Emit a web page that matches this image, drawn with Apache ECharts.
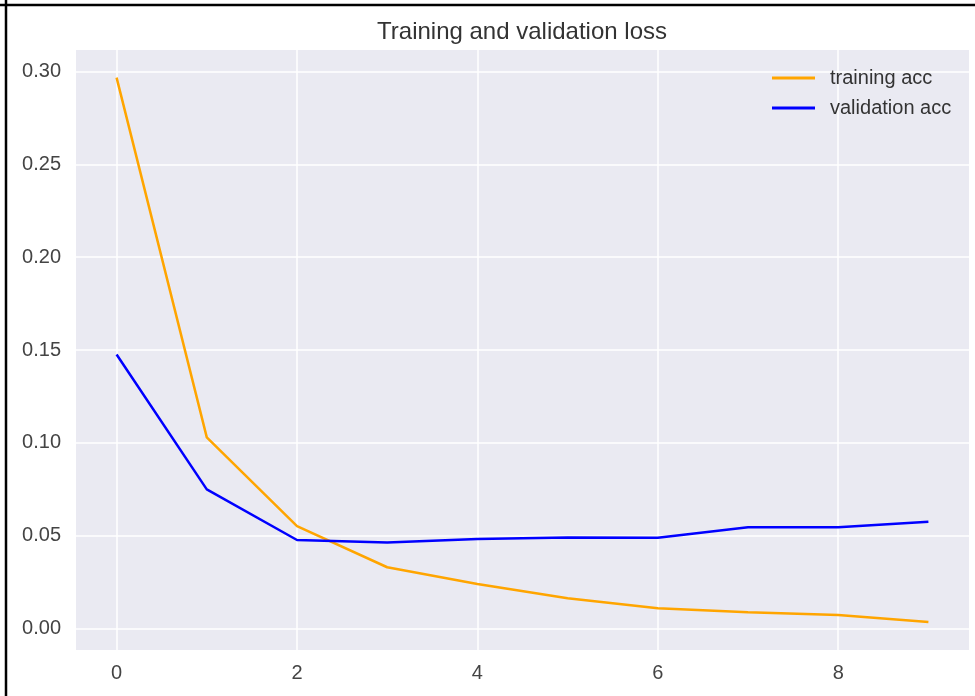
<!DOCTYPE html>
<html>
<head>
<meta charset="utf-8">
<script src="https://cdn.jsdelivr.net/npm/echarts@6/dist/echarts.min.js"></script>
<style>
html,body{margin:0;padding:0;background:#fff;}
#chart{width:975px;height:696px;}
</style>
</head>
<body>
<div id="chart"></div>
<script>
const epochs = [0, 1, 2, 3, 4, 5, 6, 7, 8, 9];
const trainingAcc = [0.2968, 0.1029, 0.0551, 0.0329, 0.0239, 0.0162, 0.0108, 0.0086, 0.0072, 0.0034];
const validationAcc = [0.1476, 0.0749, 0.0476, 0.0463, 0.0481, 0.0490, 0.0488, 0.0544, 0.0544, 0.0574];
const xTicks = [0, 2, 4, 6, 8];
const yTicks = [0.00, 0.05, 0.10, 0.15, 0.20, 0.25, 0.30];
const titleText = 'Training and validation loss';
const seriesNames = ['training acc', 'validation acc'];

const chart = echarts.init(document.getElementById('chart'), null, {renderer: 'canvas'});
const font = 'Liberation Sans, Arial, sans-serif';
chart.setOption({
  animation: false,
  backgroundColor: '#ffffff',
  title: {
    text: titleText,
    left: 517, top: 15, textAlign: 'center',
    textStyle: {fontFamily: font, fontSize: 24, fontWeight: 'normal', color: '#333333'}
  },
  legend: {
    orient: 'vertical',
    left: 767, top: 63,
    itemWidth: 43, itemHeight: 3, itemGap: 10,
    icon: 'rect',
    data: seriesNames,
    textStyle: {fontFamily: font, fontSize: 20, color: '#333333', padding: [0, 0, 0, 10]}
  },
  grid: {left: 76, top: 50, width: 893, height: 600, backgroundColor: '#EAEAF2', show: true, borderWidth: 0},
  xAxis: {
    type: 'value', min: -0.45, max: 9.45,
    axisLine: {show: false},
    axisTick: {show: false, customValues: xTicks},
    axisLabel: {customValues: xTicks, fontFamily: font, fontSize: 20, color: '#444444', margin: 13},
    splitLine: {show: true, lineStyle: {color: '#ffffff', width: 1.5}}
  },
  yAxis: {
    type: 'value', min: -0.0117, max: 0.3117,
    axisLine: {show: false},
    axisTick: {show: false, customValues: yTicks},
    axisLabel: {customValues: yTicks, fontFamily: font, fontSize: 20, color: '#444444', margin: 15,
      formatter: v => v.toFixed(2)},
    splitLine: {show: true, lineStyle: {color: '#ffffff', width: 1.5}}
  },
  graphic: [
    {type: 'line', shape: {x1: 6, y1: 0, x2: 6, y2: 696}, style: {stroke: '#000', lineWidth: 2.5}, z: 100},
    {type: 'line', shape: {x1: 0, y1: 5, x2: 975, y2: 5}, style: {stroke: '#000', lineWidth: 2.5}, z: 100}
  ],
  series: [
    {name: seriesNames[0], type: 'line', data: epochs.map((e, i) => [e, trainingAcc[i]]),
     showSymbol: false, symbol: 'none', color: '#FFA500', lineStyle: {width: 2.5, color: '#FFA500'}},
    {name: seriesNames[1], type: 'line', data: epochs.map((e, i) => [e, validationAcc[i]]),
     showSymbol: false, symbol: 'none', color: '#0000FF', lineStyle: {width: 2.5, color: '#0000FF'}}
  ]
});
</script>
</body>
</html>
